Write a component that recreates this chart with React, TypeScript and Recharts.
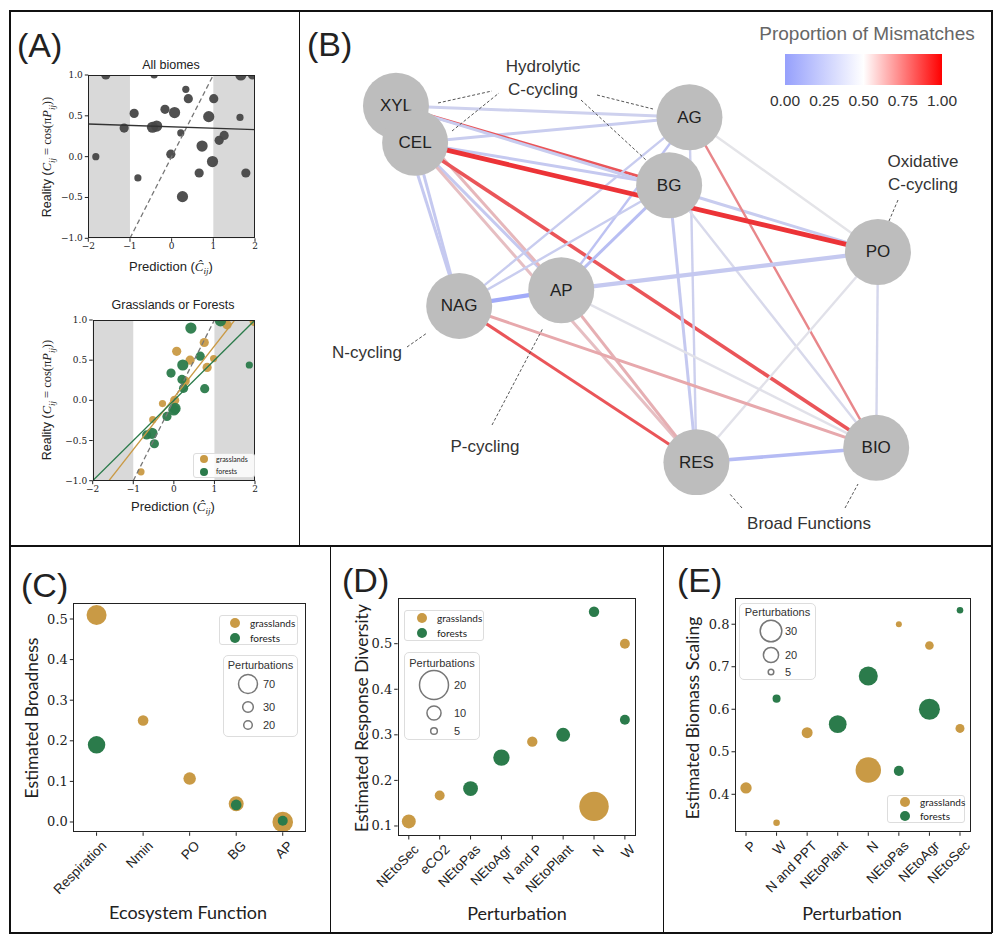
import React from 'react'
import { ScatterChart, Scatter, XAxis, YAxis, ReferenceArea } from 'recharts'

const SANS = '"Liberation Sans", Arial, sans-serif'
const LATO = 'Lato, "Liberation Sans", sans-serif'
const SERIF = '"DejaVu Serif", serif'
const MATH = '"Liberation Serif", serif'
const GRASS = '#c99a45'
const FOREST = '#2b7b4b'
const DOT = '#474747'

// (A) all biomes: prediction vs reality
const allPred = [-1.58, -0.42, 1.66, 1.94, 0.34, 0.4, 1.01, -0.9, -0.16, 0.07, 0.89, 1.64, -1.14, -0.46, -0.36, 0.22, 1.14, 1.26, 0.73, -1.82, -0.02, 0.98, -0.81, 0.66, 1.78, 0.26]
const allReal = [1.0, 1.0, 1.0, 1.0, 0.825, 0.71, 0.71, 0.53, 0.58, 0.54, 0.49, 0.48, 0.35, 0.36, 0.375, 0.29, 0.2, 0.26, 0.13, 0.0, 0.03, -0.06, -0.26, -0.2, -0.2, -0.49]
const allSize = [2, 1, 3, 2, 1, 2, 2, 2, 2, 3, 3, 1, 2, 3, 3, 1, 2, 2, 3, 1, 2, 3, 1, 2, 2, 3]

// (A) grasslands or forests
const grassPred = [0.07, 0.75, 0.4, 0.82, 0.98, 1.31, 1.98, 0.28, -0.28, 0.02, -0.52, -0.81, 1.2]
const grassReal = [0.61, 0.72, 0.5, 0.41, 0.52, 0.94, 0.98, 0.24, -0.04, 0.0, -0.24, -0.89, 1.0]
const grassSize = [2, 2, 2, 2, 1, 2, 2, 2, 1, 2, 1, 1, 2]
const forestPred = [0.42, 1.15, 0.65, 0.22, -0.07, 0.2, 0.24, 0.76, 1.86, 0.03, 0.0, -0.17, -0.54, -0.67, -0.48]
const forestReal = [0.9, 0.99, 0.55, 0.44, 0.34, 0.26, 0.15, 0.145, 0.44, -0.1, -0.12, -0.2, -0.41, -0.43, -0.54]
const forestSize = [3, 3, 2, 3, 2, 2, 2, 2, 1, 3, 3, 2, 3, 2, 2]

// fitted lines [slope, intercept]
const allFit = [-0.0175, 0.365]
const grassFit = [0.645, 0.032]
const forestFit = [0.5, 0]
const identity = [1, 0]

// (B) network
const nodeIds = ['XYL', 'CEL', 'AG', 'BG', 'PO', 'AP', 'NAG', 'RES', 'BIO']
const nodeX = [0.062, 0.095, 0.568, 0.533, 0.893, 0.347, 0.171, 0.58, 0.89]
const nodeY = [0.916, 0.829, 0.889, 0.729, 0.572, 0.482, 0.445, 0.077, 0.111]
// [from, to, proportion of mismatches, weight]
const edges: [string, string, number, number][] = [
  ['XYL', 'AG', 0.36, 2],
  ['CEL', 'AG', 0.33, 2],
  ['XYL', 'BG', 0.88, 2],
  ['CEL', 'BG', 0.3, 2],
  ['XYL', 'PO', 0.32, 2],
  ['XYL', 'NAG', 0.3, 2],
  ['CEL', 'NAG', 0.3, 2],
  ['CEL', 'AP', 0.3, 2],
  ['XYL', 'AP', 0.62, 2],
  ['CEL', 'RES', 0.6, 2],
  ['CEL', 'BIO', 0.88, 2.5],
  ['AG', 'NAG', 0.32, 1.5],
  ['AG', 'AP', 0.25, 1.5],
  ['AG', 'PO', 0.5, 1.5],
  ['AG', 'BIO', 0.75, 1.5],
  ['AG', 'RES', 0.35, 1.5],
  ['BG', 'NAG', 0.33, 1.5],
  ['BG', 'AP', 0.22, 2],
  ['BG', 'RES', 0.3, 2],
  ['BG', 'BIO', 0.42, 1.5],
  ['PO', 'AP', 0.3, 3],
  ['PO', 'RES', 0.48, 1.5],
  ['PO', 'BIO', 0.4, 1.5],
  ['NAG', 'AP', 0.08, 3],
  ['NAG', 'RES', 0.88, 2],
  ['NAG', 'BIO', 0.66, 2],
  ['AP', 'RES', 0.64, 2],
  ['AP', 'BIO', 0.48, 1.5],
  ['RES', 'BIO', 0.2, 2.5],
  ['CEL', 'PO', 0.97, 3.5],
]
const barTicks = [0, 0.25, 0.5, 0.75, 1]

// (C) broadness
const funcCats = ['Respiration', 'Nmin', 'PO', 'BG', 'AP']
const broadGrass = [0.51, 0.25, 0.107, 0.045, 0.0]
const broadGrassN = [75, 30, 39, 51, 78]
const broadForest = [0.19, null, null, 0.042, 0.003]
const broadForestN = [63, null, null, 30, 27]
const broadLegend = [70, 30, 20]

// (D) response diversity
const divCats = ['NEtoSec', 'eCO2', 'NEtoPas', 'NEtoAgr', 'N and P', 'NEtoPlant', 'N', 'W']
const divGrass = [0.11, 0.167, null, null, 0.285, null, 0.143, 0.5]
const divGrassN = [9.9, 7.2, null, null, 7.5, null, 20.3, 7.2]
const divForest = [null, null, 0.182, 0.25, null, 0.3, 0.57, 0.333]
const divForestN = [null, null, 10.5, 11.5, null, 9.9, 7.5, 7.2]
const divLegend = [20, 10, 5]

// (E) biomass scaling
const bioCats = ['P', 'W', 'N and PPT', 'NEtoPlant', 'N', 'NEtoPas', 'NEtoAgr', 'NEtoSec']
const bioGrass = [0.415, 0.333, 0.545, null, 0.457, 0.8, 0.75, 0.555]
const bioGrassN = [14, 6.5, 13.4, null, 36, 5.6, 9.7, 10.3]
const bioForest = [null, 0.625, null, 0.565, 0.678, 0.455, 0.6, 0.833]
const bioForestN = [null, 8.8, null, 24, 26, 12, 29, 6.5]
const bioLegend = [30, 20, 5]

// size scales (radius in px)
const rA = (n: number) => 2.6 + 1.0 * n
const rC = (n: number) => 2.2 + 0.104 * n
const rD = (n: number) => -0.4 + 0.745 * n
const rE = (n: number) => 1.2 + 0.32 * n

type Pt = { x: number; y: number; n: number }
const toPoints = (xs: number[], ys: (number | null)[], ns: (number | null)[]): Pt[] =>
  xs
    .map((x, i) => ({ x, y: ys[i] as number, n: ns[i] as number }))
    .filter((p) => p.y != null)
const idx = (cats: string[]) => cats.map((_, i) => i)

const fitSegment = (f: number[], xd: number[], yd: number[]) => {
  const [m, b] = f
  let x0 = xd[0]
  let x1 = xd[1]
  if (m !== 0) {
    const a = (yd[0] - b) / m
    const c = (yd[1] - b) / m
    x0 = Math.max(x0, Math.min(a, c))
    x1 = Math.min(x1, Math.max(a, c))
  }
  return [
    { x: x0, y: m * x0 + b },
    { x: x1, y: m * x1 + b },
  ]
}

const BLUE = [150, 160, 252]
const MID = [228, 228, 232]
const RED = [236, 40, 44]
const mix = (a: number[], b: number[], t: number) => a.map((v, i) => Math.round(v + (b[i] - v) * t))
const mismatchColor = (m: number) => {
  const c = m < 0.5 ? mix(BLUE, MID, m / 0.5) : mix(MID, RED, (m - 0.5) / 0.5)
  return `rgb(${c.join(',')})`
}

const dot = (fill: string, r: (n: number) => number, opacity = 1) => (p: any) => (
  <circle cx={p.cx} cy={p.cy} r={r(p.payload.n)} fill={fill} fillOpacity={opacity} />
)
const noShape = () => <g />

type Box = { x: number; y: number; w: number; h: number }
type Rect = { l: number; t: number; r: number; b: number }
const YW = 44
const XH = 30

const numTick = (fmt: (v: number) => string, size: number, axis: 'x' | 'y') => (p: any) => (
  <text
    x={p.x}
    y={axis === 'x' ? p.y - 1 : p.y}
    textAnchor={axis === 'y' ? 'end' : 'middle'}
    dominantBaseline={axis === 'y' ? 'central' : 'hanging'}
    fontFamily={SERIF}
    fontSize={size}
    fill='#222'
  >
    {fmt(p.payload.value)}
  </text>
)

const catTick = (labels: string[]) => (p: any) => (
  <text
    transform={`translate(${p.x + 4},${p.y + 2}) rotate(-45)`}
    textAnchor='end'
    dominantBaseline='hanging'
    fontFamily={SANS}
    fontSize={13.5}
    fill='#222'
  >
    {labels[p.payload.value]}
  </text>
)

const minus = (s: string) => s.replace('-', '\u2212')

type ChartProps = {
  box: Box
  plot: Rect
  xDomain: number[]
  yDomain: number[]
  xTicks: number[]
  yTicks: number[]
  xTick: any
  yTick: any
  children: React.ReactNode
}

const Chart = ({ box, plot, xDomain, yDomain, xTicks, yTicks, xTick, yTick, children }: ChartProps) => (
  <>
    <div style={{ position: 'absolute', left: box.x, top: box.y }}>
      <ScatterChart
        width={box.w}
        height={box.h}
        margin={{
          left: plot.l - box.x - YW,
          top: plot.t - box.y,
          right: box.x + box.w - plot.r,
          bottom: box.y + box.h - plot.b - XH,
        }}
      >
        <XAxis
          type='number'
          dataKey='x'
          domain={xDomain}
          ticks={xTicks}
          interval={0}
          allowDataOverflow
          axisLine={false}
          tickLine={{ stroke: '#222' }}
          tickSize={3.5}
          tick={xTick}
          height={XH}
        />
        <YAxis
          type='number'
          dataKey='y'
          domain={yDomain}
          ticks={yTicks}
          interval={0}
          allowDataOverflow
          axisLine={false}
          tickLine={{ stroke: '#222' }}
          tickSize={3.5}
          tick={yTick}
          width={YW}
        />
        {children}
      </ScatterChart>
    </div>
    <div
      style={{
        position: 'absolute',
        left: plot.l,
        top: plot.t,
        width: plot.r - plot.l,
        height: plot.b - plot.t,
        border: '1px solid #222',
        boxSizing: 'border-box',
        pointerEvents: 'none',
      }}
    />
  </>
)

const Text = ({
  x,
  y,
  size,
  children,
  font = SANS,
  color = '#222',
  rotate = 0,
  anchor = 'middle',
}: {
  x: number
  y: number
  size: number
  children: React.ReactNode
  font?: string
  color?: string
  rotate?: number
  anchor?: 'middle' | 'start'
}) => (
  <div
    style={{
      position: 'absolute',
      left: x,
      top: y,
      transform: `translate(${anchor === 'middle' ? '-50%' : '0'},-50%) rotate(${rotate}deg)`,
      fontSize: size,
      fontFamily: font,
      color,
      whiteSpace: 'nowrap',
      lineHeight: 1,
    }}
  >
    {children}
  </div>
)

const Line = ({ x, y, w, h }: { x: number; y: number; w: number; h: number }) => (
  <div style={{ position: 'absolute', left: x, top: y, width: w, height: h, background: '#111' }} />
)

const ColorLegend = ({ x, y, w, h, size, r, cx }: { x: number; y: number; w: number; h: number; size: number; r: number; cx: number }) => (
  <div
    style={{
      position: 'absolute',
      left: x,
      top: y,
      width: w,
      height: h,
      border: '1px solid #ddd',
      borderRadius: 3,
      background: 'rgba(255,255,255,0.8)',
      boxSizing: 'border-box',
      fontFamily: LATO,
      fontSize: size,
      color: '#222',
    }}
  >
    {[
      ['grasslands', GRASS],
      ['forests', FOREST],
    ].map(([label, c], i) => (
      <div key={label} style={{ position: 'absolute', left: cx - r, top: (h / 4) * (1 + 2 * i) - r - 1, display: 'flex', alignItems: 'center', lineHeight: 1 }}>
        <span style={{ width: 2 * r, height: 2 * r, borderRadius: '50%', background: c, display: 'inline-block' }} />
        <span style={{ marginLeft: r * 2 }}>{label}</span>
      </div>
    ))}
  </div>
)

const SizeLegend = ({
  box,
  sizes,
  rFn,
  rows,
  cx,
  labelX,
  titleY,
}: {
  box: Box
  sizes: number[]
  rFn: (n: number) => number
  rows: number[]
  cx: number
  labelX: number
  titleY: number
}) => (
  <div
    style={{
      position: 'absolute',
      left: box.x,
      top: box.y,
      width: box.w,
      height: box.h,
      border: '1.5px solid #ddd',
      borderRadius: 5,
      background: 'rgba(255,255,255,0.8)',
      boxSizing: 'border-box',
    }}
  >
    <svg width={box.w} height={box.h} style={{ position: 'absolute', left: -1.5, top: -1.5 }}>
      <text x={box.w / 2} y={titleY} textAnchor='middle' dominantBaseline='central' fontFamily={SANS} fontSize={11} fill='#333'>
        Perturbations
      </text>
      {sizes.map((s, i) => (
        <g key={s}>
          <circle cx={cx} cy={rows[i]} r={rFn(s)} fill='none' stroke='#777' strokeWidth={1.5} />
          <text x={labelX} y={rows[i]} dominantBaseline='central' fontFamily={SANS} fontSize={11} fill='#333'>
            {s}
          </text>
        </g>
      ))}
    </svg>
  </div>
)

// ---------------- panel A ----------------
const aXD = [-2, 2]
const aYD = [-1, 1]
const aXT = [-2, -1, 0, 1, 2]
const aYT = [-1, -0.5, 0, 0.5, 1]
const aXTick = numTick((v) => minus(String(v)), 9, 'x')
const aYTick = numTick((v) => minus(v.toFixed(1)), 9, 'y')

const Shade = () => (
  <>
    <ReferenceArea x1={-2} x2={-1} y1={-1} y2={1} fill='#d9d9d9' fillOpacity={1} stroke='none' />
    <ReferenceArea x1={1} x2={2} y1={-1} y2={1} fill='#d9d9d9' fillOpacity={1} stroke='none' />
  </>
)

const yLabelA = (
  <>
    Reality (<i style={{ fontFamily: MATH }}>C</i>
    <sub style={{ fontFamily: MATH, fontStyle: 'italic', fontSize: '0.7em' }}>ij</sub>
    <span style={{ fontFamily: MATH }}> = cos(π</span>
    <i style={{ fontFamily: MATH }}>P</i>
    <sub style={{ fontFamily: MATH, fontStyle: 'italic', fontSize: '0.7em' }}>ij</sub>
    <span style={{ fontFamily: MATH }}>))</span>
  </>
)
const xLabelA = (
  <>
    Prediction (<i style={{ fontFamily: MATH }}>{'C\u0302'}</i>
    <sub style={{ fontFamily: MATH, fontStyle: 'italic', fontSize: '0.7em' }}>ij</sub>)
  </>
)

const PanelA = () => {
  const top = { l: 88.3, t: 75, r: 255, b: 238.3 }
  const bot = { l: 92.7, t: 320, r: 255, b: 480.7 }
  return (
    <>
      <Chart box={{ x: 9, y: 55, w: 290, h: 215 }} plot={top} xDomain={aXD} yDomain={aYD} xTicks={aXT} yTicks={aYT} xTick={aXTick} yTick={aYTick}>
        {Shade()}
        <Scatter data={toPoints(allPred, allReal, allSize)} shape={dot(DOT, rA, 0.95)} isAnimationActive={false} />
        <Scatter data={fitSegment(identity, aXD, aYD)} shape={noShape} line={{ stroke: '#777', strokeWidth: 1.3, strokeDasharray: '5 3' }} isAnimationActive={false} />
        <Scatter data={fitSegment(allFit, aXD, aYD)} shape={noShape} line={{ stroke: '#333', strokeWidth: 1.3 }} isAnimationActive={false} />
      </Chart>
      <Text x={171} y={65} size={12.5}>All biomes</Text>
      <Text x={49} y={157} size={12.5} rotate={-90}>{yLabelA}</Text>
      <Text x={171} y={268} size={13}>{xLabelA}</Text>

      <Chart box={{ x: 9, y: 300, w: 290, h: 215 }} plot={bot} xDomain={aXD} yDomain={aYD} xTicks={aXT} yTicks={aYT} xTick={aXTick} yTick={aYTick}>
        {Shade()}
        <Scatter data={toPoints(grassPred, grassReal, grassSize)} shape={dot(GRASS, rA, 0.95)} isAnimationActive={false} />
        <Scatter data={toPoints(forestPred, forestReal, forestSize)} shape={dot(FOREST, rA, 0.95)} isAnimationActive={false} />
        <Scatter data={fitSegment(identity, aXD, aYD)} shape={noShape} line={{ stroke: '#777', strokeWidth: 1.3, strokeDasharray: '5 3' }} isAnimationActive={false} />
        <Scatter data={fitSegment(grassFit, aXD, aYD)} shape={noShape} line={{ stroke: GRASS, strokeWidth: 1.3 }} isAnimationActive={false} />
        <Scatter data={fitSegment(forestFit, aXD, aYD)} shape={noShape} line={{ stroke: FOREST, strokeWidth: 1.3 }} isAnimationActive={false} />
      </Chart>
      <ColorLegend x={193} y={453} w={62} h={25} size={7} r={4} cx={10} />
      <Text x={173} y={305} size={12.5}>Grasslands or Forests</Text>
      <Text x={49} y={400} size={12.5} rotate={-90}>{yLabelA}</Text>
      <Text x={173} y={508} size={13}>{xLabelA}</Text>
    </>
  )
}

// ---------------- panel B ----------------
const nodes = nodeIds.map((id, i) => ({ id, x: nodeX[i], y: nodeY[i] }))
const nodeAt = (id: string) => nodes[nodeIds.indexOf(id)]
const edgeWidth = (w: number) => 0.6 + 1.2 * w

const NodeShape = (p: any) => (
  <g>
    <circle cx={p.cx} cy={p.cy} r={33} fill='#bdbdbd' />
    <text x={p.cx} y={p.cy} textAnchor='middle' dominantBaseline='central' fontFamily={SANS} fontSize={17} fill='#222'>
      {p.payload.id}
    </text>
  </g>
)

const leaders = [
  [438, 103, 492, 91],
  [452, 131, 499, 93],
  [597, 95, 653, 109],
  [581, 100, 646, 160],
  [898, 200, 889, 221],
  [407, 347, 427, 333],
  [492, 425, 543, 328],
  [742, 508, 729, 493],
  [845, 508, 858, 484],
]

const PanelB = () => (
  <>
    <div style={{ position: 'absolute', left: 300, top: 11 }}>
      <ScatterChart width={691} height={534} margin={{ left: 60, top: 59, right: 51, bottom: 50 }}>
        <XAxis type='number' dataKey='x' domain={[0, 1]} hide allowDataOverflow />
        <YAxis type='number' dataKey='y' domain={[0, 1]} hide allowDataOverflow />
        {edges.map(([a, b, m, w], i) => (
          <Scatter
            key={i}
            data={[nodeAt(a), nodeAt(b)]}
            shape={noShape}
            line={{ stroke: mismatchColor(m), strokeWidth: edgeWidth(w) }}
            isAnimationActive={false}
          />
        ))}
        <Scatter data={nodes} shape={NodeShape} isAnimationActive={false} />
      </ScatterChart>
    </div>
    <svg width={1000} height={944} style={{ position: 'absolute', left: 0, top: 0, pointerEvents: 'none' }}>
      {leaders.map(([x1, y1, x2, y2], i) => (
        <line key={i} x1={x1} y1={y1} x2={x2} y2={y2} stroke='#555' strokeWidth={1} strokeDasharray='3 2' />
      ))}
    </svg>
    <Text x={543} y={66} size={17} color='#333'>Hydrolytic</Text>
    <Text x={543} y={89} size={17} color='#333'>C-cycling</Text>
    <Text x={923} y={161} size={17} color='#333'>Oxidative</Text>
    <Text x={923} y={184} size={17} color='#333'>C-cycling</Text>
    <Text x={367} y={352} size={17} color='#333'>N-cycling</Text>
    <Text x={485} y={446} size={17} color='#333'>P-cycling</Text>
    <Text x={809} y={523} size={17} color='#333'>Broad Functions</Text>

    <Text x={867} y={33} size={19} color='#666'>Proportion of Mismatches</Text>
    <div
      style={{
        position: 'absolute',
        left: 785,
        top: 54,
        width: 157,
        height: 31,
        background: `linear-gradient(to right, ${mismatchColor(0)}, #ffffff 50%, rgb(255,0,0))`,
      }}
    />
    {barTicks.map((t) => (
      <Text key={t} x={785 + t * 157} y={101} size={15.5} color='#333'>
        {t.toFixed(2)}
      </Text>
    ))}
  </>
)

// ---------------- panels C, D, E ----------------
const fmt1 = (v: number) => v.toFixed(1)

const PanelC = () => {
  const plot = { l: 73.3, t: 603.3, r: 306, b: 832.3 }
  const xs = idx(funcCats)
  return (
    <>
      <Chart
        box={{ x: 0, y: 546, w: 330, h: 390 }}
        plot={plot}
        xDomain={[-0.5, 4.5]}
        yDomain={[-0.0254, 0.5387]}
        xTicks={xs}
        yTicks={[0, 0.1, 0.2, 0.3, 0.4, 0.5]}
        xTick={catTick(funcCats)}
        yTick={numTick(fmt1, 13, 'y')}
      >
        <Scatter data={toPoints(xs, broadGrass, broadGrassN)} shape={dot(GRASS, rC)} isAnimationActive={false} />
        <Scatter data={toPoints(xs, broadForest, broadForestN)} shape={dot(FOREST, rC)} isAnimationActive={false} />
      </Chart>
      <ColorLegend x={219} y={615} w={79} h={30} size={10} r={5} cx={15} />
      <SizeLegend box={{ x: 223, y: 655, w: 75, h: 82 }} sizes={broadLegend} rFn={rC} rows={[29, 52, 70]} cx={25} labelX={40} titleY={10} />
      <Text x={32} y={718} size={17.5} font={LATO} rotate={-90}>Estimated Broadness</Text>
      <Text x={188} y={912} size={18} font={LATO}>Ecosystem Function</Text>
    </>
  )
}

const PanelD = () => {
  const plot = { l: 397.7, t: 598.3, r: 636, b: 836 }
  const xs = idx(divCats)
  return (
    <>
      <Chart
        box={{ x: 330, y: 546, w: 333, h: 390 }}
        plot={plot}
        xDomain={[-0.36, 7.36]}
        yDomain={[0.078, 0.5996]}
        xTicks={xs}
        yTicks={[0.1, 0.2, 0.3, 0.4, 0.5]}
        xTick={catTick(divCats)}
        yTick={numTick(fmt1, 13, 'y')}
      >
        <Scatter data={toPoints(xs, divGrass, divGrassN)} shape={dot(GRASS, rD)} isAnimationActive={false} />
        <Scatter data={toPoints(xs, divForest, divForestN)} shape={dot(FOREST, rD)} isAnimationActive={false} />
      </Chart>
      <ColorLegend x={404} y={610} w={80} h={31} size={10} r={5} cx={17} />
      <SizeLegend box={{ x: 404, y: 652, w: 76, h: 88 }} sizes={divLegend} rFn={rD} rows={[33, 61, 79]} cx={30} labelX={50} titleY={11} />
      <Text x={362} y={718} size={17.5} font={LATO} rotate={-90}>Estimated Response Diversity</Text>
      <Text x={517} y={913} size={18} font={LATO}>Perturbation</Text>
    </>
  )
}

const PanelE = () => {
  const plot = { l: 735, t: 598.3, r: 971, b: 832.3 }
  const xs = idx(bioCats)
  return (
    <>
      <Chart
        box={{ x: 663, y: 546, w: 329, h: 390 }}
        plot={plot}
        xDomain={[-0.36, 7.36]}
        yDomain={[0.3106, 0.861]}
        xTicks={xs}
        yTicks={[0.4, 0.5, 0.6, 0.7, 0.8]}
        xTick={catTick(bioCats)}
        yTick={numTick(fmt1, 13, 'y')}
      >
        <Scatter data={toPoints(xs, bioGrass, bioGrassN)} shape={dot(GRASS, rE)} isAnimationActive={false} />
        <Scatter data={toPoints(xs, bioForest, bioForestN)} shape={dot(FOREST, rE)} isAnimationActive={false} />
      </Chart>
      <SizeLegend box={{ x: 739, y: 603, w: 77, h: 77 }} sizes={bioLegend} rFn={rE} rows={[28, 52, 69]} cx={32} labelX={46} titleY={9} />
      <ColorLegend x={887} y={795} w={78} h={28} size={10} r={5} cx={17} />
      <Text x={693} y={718} size={17.5} font={LATO} rotate={-90}>Estimated Biomass Scaling</Text>
      <Text x={852} y={913} size={18} font={LATO}>Perturbation</Text>
    </>
  )
}

const App = () => (
  <div style={{ position: 'absolute', left: 0, top: 0, width: 1000, height: 944, background: '#fff', overflow: 'hidden' }}>
    <PanelA />
    <PanelB />
    <PanelC />
    <PanelD />
    <PanelE />

    {/* panel frames */}
    <Line x={9} y={10} w={983} h={1.5} />
    <Line x={9} y={932} w={983} h={1.5} />
    <Line x={9} y={10} w={1.5} h={923} />
    <Line x={991} y={10} w={1.5} h={923} />
    <Line x={298.5} y={10} w={1.5} h={536} />
    <Line x={9} y={545} w={983} h={1.5} />
    <Line x={329.5} y={545} w={1.5} h={388} />
    <Line x={662.5} y={545} w={1.5} h={388} />

    <Text x={17} y={45} size={34} anchor='start'>(A)</Text>
    <Text x={307} y={44} size={34} anchor='start'>(B)</Text>
    <Text x={21} y={585} size={34} anchor='start'>(C)</Text>
    <Text x={342} y={580} size={34} anchor='start'>(D)</Text>
    <Text x={677} y={580} size={34} anchor='start'>(E)</Text>
  </div>
)

export default App
